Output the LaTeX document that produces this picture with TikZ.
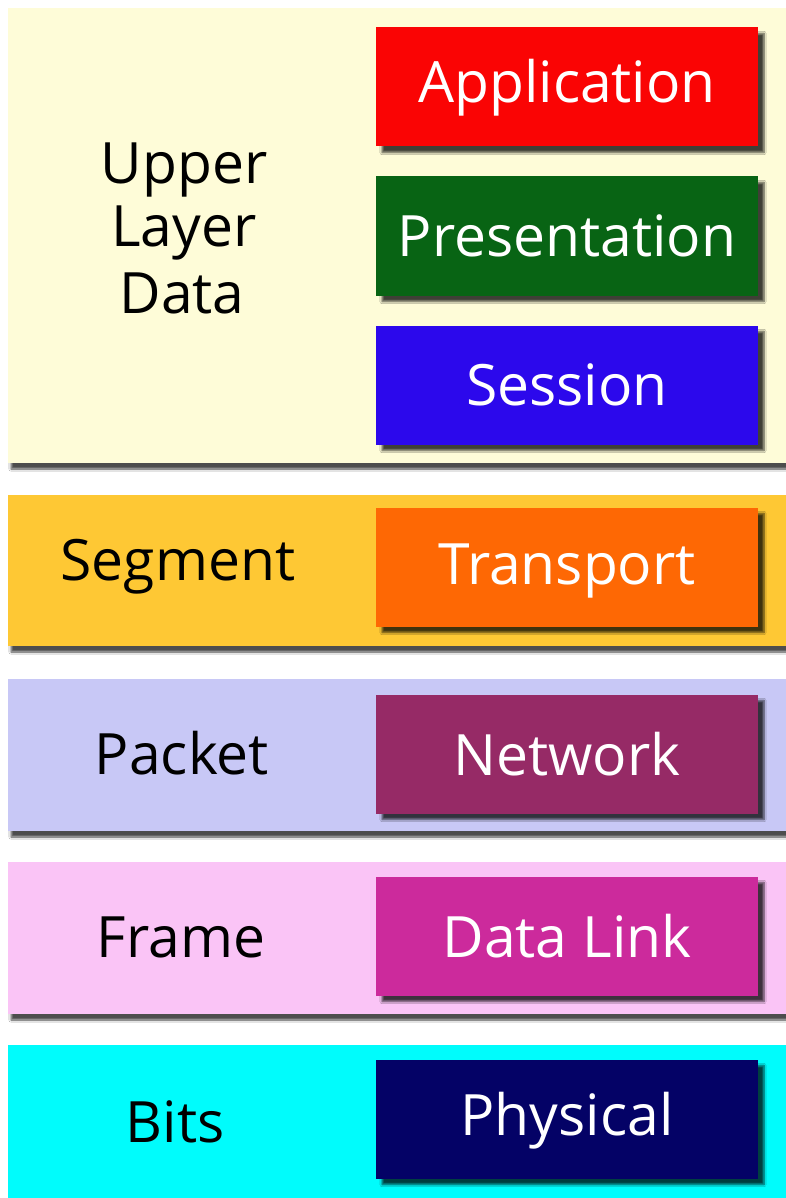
\documentclass[tikz,border=0pt]{standalone}
\usepackage{fontspec}
\setmainfont{Open Sans}
\usetikzlibrary{shadows,shadows.blur}
\definecolor{creamband}{RGB}{254,252,216}
\definecolor{goldband}{RGB}{254,200,52}
\definecolor{lavband}{RGB}{200,200,246}
\definecolor{pinkband}{RGB}{250,196,246}
\definecolor{cyanband}{RGB}{0,252,252}
\definecolor{appred}{RGB}{250,4,4}
\definecolor{presgreen}{RGB}{8,100,20}
\definecolor{sessblue}{RGB}{44,8,236}
\definecolor{transorange}{RGB}{254,104,4}
\definecolor{netmaroon}{RGB}{150,42,102}
\definecolor{dlmagenta}{RGB}{204,42,156}
\definecolor{physnavy}{RGB}{4,2,102}
\tikzset{
  band/.style={draw=none, inner sep=0pt,
    blur shadow={shadow xshift=3pt, shadow yshift=-6pt, shadow blur steps=6, shadow opacity=70}},
  layerbox/.style={draw=none, inner sep=0pt, minimum width=382pt, minimum height=119pt,
    blur shadow={shadow xshift=6pt, shadow yshift=-6pt, shadow blur steps=6, shadow opacity=75}},
  boxtext/.style={text=white, font=\fontsize{57}{63}\selectfont, inner sep=0pt},
  sidetext/.style={text=black, font=\fontsize{57}{63}\selectfont, inner sep=0pt},
}
\begin{document}
\begin{tikzpicture}[x=1pt,y=-1pt]
\useasboundingbox (0,0) rectangle (786,1198);
\fill[white] (0,0) rectangle (786,1198);

% coloured bands, one per data unit
\path[band, fill=creamband] (8,8) rectangle (786,463);
\path[band, fill=goldband] (8,495) rectangle (786,646);
\path[band, fill=lavband] (8,679) rectangle (786,831);
\path[band, fill=pinkband] (8,862) rectangle (786,1014);
\path[band, fill=cyanband] (8,1045) rectangle (786,1198);

% OSI layer boxes
\node[layerbox, fill=appred]      (app)  at (567,87)   {};
\node[layerbox, fill=presgreen]   (pres) at (567,236)  {};
\node[layerbox, fill=sessblue]    (sess) at (567,385)  {};
\node[layerbox, fill=transorange] (trans) at (567,567) {};
\node[layerbox, fill=netmaroon]   (net)  at (567,754)  {};
\node[layerbox, fill=dlmagenta]   (dl)   at (567,936)  {};
\node[layerbox, fill=physnavy]    (phys) at (567,1119) {};

% layer names
\node[boxtext] (appT)   at ([yshift=-1pt]app.center)   {Application};
\node[boxtext] (presT)  at (pres.center)               {Presentation};
\node[boxtext] (sessT)  at (sess.center)               {Session};
\node[boxtext] (transT) at ([yshift=-4pt]trans.center) {Transport};
\node[boxtext] (netT)   at (net.center)                {Network};
\node[boxtext] (dlT)    at (dl.center)                 {Data Link};
\node[boxtext] (physT)  at ([yshift=-2pt]phys.center)  {Physical};

% data unit names
\node[sidetext] (upper) at (184,170) {Upper};
\node[sidetext] (layer) at (184,233) {Layer};
\node[sidetext] (data)  at (182,293) {Data};
\node[sidetext] (seg)   at (178,567) {Segment};
\node[sidetext] (pkt)   at (182,753) {Packet};
\node[sidetext] (frm)   at (181,937) {Frame};
\node[sidetext] (bits)  at (175,1122) {Bits};
\end{tikzpicture}
\end{document}
